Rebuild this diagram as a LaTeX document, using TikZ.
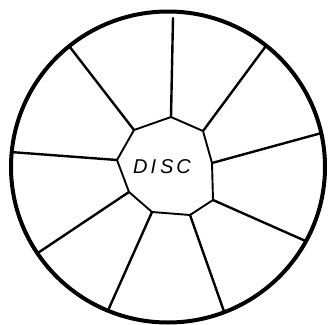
\documentclass[tikz,border=0pt]{standalone}
\usepackage{fontspec}
\newfontfamily\discfont{Liberation Sans}
\usetikzlibrary{calc}
\begin{document}
\begin{tikzpicture}[x=1pt,y=-1pt,
  rim/.style={line width=4pt},
  spoke/.style={line width=2.4pt, line cap=round},
  hub/.style={line width=1.9pt, line join=round},
  lbl/.style={inner sep=0pt}]
\useasboundingbox (0,0) rectangle (329,324);
\coordinate (C) at (168,167);
\draw[rim] (C) ellipse [x radius=157pt, y radius=155.5pt];
% hub vertices
\coordinate (P1) at (171,117);
\coordinate (P2) at (203,131);
\coordinate (P3) at (212,163);
\coordinate (P4) at (213,200);
\coordinate (P5) at (190,215);
\coordinate (P6) at (152,212);
\coordinate (P7) at (129,192);
\coordinate (P8) at (117,160);
\coordinate (P9) at (134,130);
\coordinate (T) at (173,18);
% rim points
\foreach \a/\n in {51.3/2, 12.6/3, -28.5/4, -69/5, -112.5/6, -146.3/7, 174.5/8, 129/9}
  \coordinate (E\n) at ($(C)+(\a:157pt and 155.5pt)$);
\draw[hub] (P1) -- (P2) -- (P3) -- (P4) -- (P5) -- (P6) -- (P7) -- (P8) -- (P9) -- cycle;
\draw[spoke] (T) -- (P1);
\foreach \n in {2,...,9}
  \draw[spoke] (P\n) -- (E\n);
\node[lbl] (disc) at (162,167) {\discfont\itshape\fontsize{20}{22}\selectfont D\hspace{3pt}I\hspace{4pt}S\hspace{3pt}C};
\end{tikzpicture}
\end{document}
